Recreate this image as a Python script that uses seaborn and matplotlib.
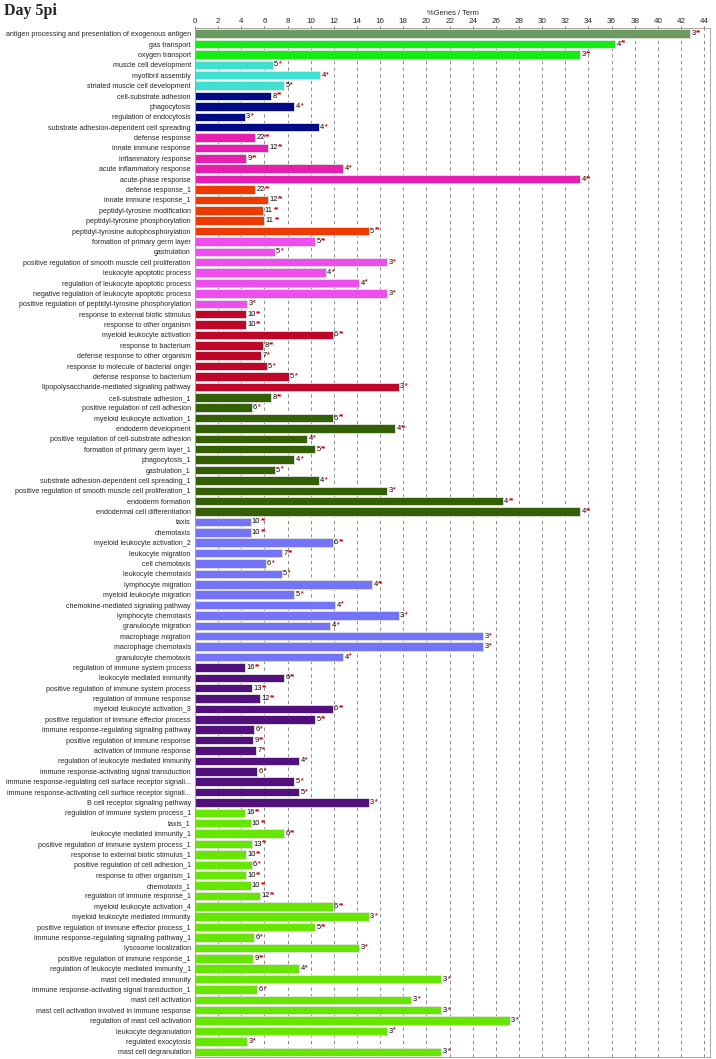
import pandas as pd
import matplotlib.pyplot as plt
import seaborn as sns

terms = [
    "antigen processing and presentation of exogenous antigen", "gas transport", "oxygen transport",
    "muscle cell development", "myofibril assembly", "striated muscle cell development",
    "cell-substrate adhesion", "phagocytosis", "regulation of endocytosis",
    "substrate adhesion-dependent cell spreading",
    "defense response", "innate immune response", "inflammatory response",
    "acute inflammatory response", "acute-phase response",
    "defense response_1", "innate immune response_1", "peptidyl-tyrosine modification",
    "peptidyl-tyrosine phosphorylation", "peptidyl-tyrosine autophosphorylation",
    "formation of primary germ layer", "gastrulation",
    "positive regulation of smooth muscle cell proliferation", "leukocyte apoptotic process",
    "regulation of leukocyte apoptotic process", "negative regulation of leukocyte apoptotic process",
    "positive regulation of peptidyl-tyrosine phosphorylation",
    "response to external biotic stimulus", "response to other organism",
    "myeloid leukocyte activation", "response to bacterium", "defense response to other organism",
    "response to molecule of bacterial origin", "defense response to bacterium",
    "lipopolysaccharide-mediated signaling pathway",
    "cell-substrate adhesion_1", "positive regulation of cell adhesion",
    "myeloid leukocyte activation_1", "endoderm development",
    "positive regulation of cell-substrate adhesion", "formation of primary germ layer_1",
    "phagocytosis_1", "gastrulation_1", "substrate adhesion-dependent cell spreading_1",
    "positive regulation of smooth muscle cell proliferation_1", "endoderm formation",
    "endodermal cell differentiation",
    "taxis", "chemotaxis", "myeloid leukocyte activation_2", "leukocyte migration",
    "cell chemotaxis", "leukocyte chemotaxis", "lymphocyte migration",
    "myeloid leukocyte migration", "chemokine-mediated signaling pathway",
    "lymphocyte chemotaxis", "granulocyte migration", "macrophage migration",
    "macrophage chemotaxis", "granulocyte chemotaxis",
    "regulation of immune system process", "leukocyte mediated immunity",
    "positive regulation of immune system process", "regulation of immune response",
    "myeloid leukocyte activation_3", "positive regulation of immune effector process",
    "immune response-regulating signaling pathway", "positive regulation of immune response",
    "activation of immune response", "regulation of leukocyte mediated immunity",
    "immune response-activating signal transduction",
    "immune response-regulating cell surface receptor signali...",
    "immune response-activating cell surface receptor signali...",
    "B cell receptor signaling pathway",
    "regulation of immune system process_1", "taxis_1", "leukocyte mediated immunity_1",
    "positive regulation of immune system process_1", "response to external biotic stimulus_1",
    "positive regulation of cell adhesion_1", "response to other organism_1", "chemotaxis_1",
    "regulation of immune response_1", "myeloid leukocyte activation_4",
    "myeloid leukocyte mediated immunity", "positive regulation of immune effector process_1",
    "immune response-regulating signaling pathway_1", "lysosome localization",
    "positive regulation of immune response_1", "regulation of leukocyte mediated immunity_1",
    "mast cell mediated immunity", "immune response-activating signal transduction_1",
    "mast cell activation", "mast cell activation involved in immune response",
    "regulation of mast cell activation", "leukocyte degranulation", "regulated exocytosis",
    "mast cell degranulation",
]

pct_genes = [
    42.8, 36.3, 33.3,
    6.7, 10.8, 7.7,
    6.6, 8.6, 4.3, 10.7,
    5.2, 6.3, 4.4, 12.8, 33.3,
    5.2, 6.3, 5.9, 6.0, 15.0,
    10.4, 6.9, 16.6, 11.3, 14.2, 16.6, 4.5,
    4.4, 4.4, 11.9, 5.9, 5.7, 6.2, 8.1, 17.6,
    6.6, 4.9, 11.9, 17.3, 9.7, 10.4, 8.6, 6.9, 10.7, 16.6, 26.6, 33.3,
    4.8, 4.8, 11.9, 7.5, 6.1, 7.5, 15.3, 8.6, 12.1, 17.6, 11.7, 24.9, 24.9, 12.8,
    4.3, 7.7, 4.9, 5.6, 11.9, 10.4, 5.1, 5.0, 5.3, 9.0, 5.4, 8.6, 9.0, 15.0,
    4.3, 4.8, 7.7, 4.9, 4.4, 4.9, 4.4, 4.8, 5.6, 11.9, 15.0, 10.4, 5.1, 14.2,
    5.0, 9.0, 21.3, 5.4, 18.7, 21.3, 27.2, 16.6, 4.5, 21.3,
]

gene_counts = [
    3, 4, 3,
    5, 4, 5,
    8, 4, 3, 4,
    22, 12, 9, 4, 4,
    22, 12, 11, 11, 5,
    5, 5, 3, 4, 4, 3, 3,
    10, 10, 6, 8, 7, 5, 5, 3,
    8, 6, 6, 4, 4, 5, 4, 5, 4, 3, 4, 4,
    10, 10, 6, 7, 6, 5, 4, 5, 4, 3, 4, 3, 3, 4,
    16, 6, 13, 12, 6, 5, 6, 9, 7, 4, 6, 5, 5, 3,
    16, 10, 6, 13, 10, 6, 10, 10, 12, 6, 3, 5, 6, 3,
    9, 4, 3, 6, 3, 3, 3, 3, 3, 3,
]

stars = [
    "**", "**", "**",
    "*", "*", "*",
    "**", "*", "*", "*",
    "**", "**", "**", "*", "**",
    "**", "**", "**", "**", "**",
    "**", "*", "*", "*", "*", "*", "*",
    "**", "**", "**", "**", "*", "*", "*", "*",
    "**", "*", "**", "**", "*", "**", "*", "*", "*", "*", "**", "**",
    "**", "**", "**", "**", "*", "*", "**", "*", "*", "*", "*", "*", "*", "*",
    "**", "**", "**", "**", "**", "**", "*", "**", "*", "*", "*", "*", "*", "*",
    "**", "**", "**", "**", "**", "*", "**", "**", "**", "**", "*", "**", "*", "*",
    "**", "*", "*", "*", "*", "*", "*", "*", "*", "*",
]

group_names = ["g1", "g2", "g3", "g4", "g5", "g6", "g7", "g8", "g9", "g10", "g11", "g12"]
group_sizes = [1, 2, 3, 4, 5, 5, 7, 8, 12, 14, 14, 24]
group_colors = ["#6b9b5e", "#14ec14", "#40e0d0", "#000a86", "#e81eb0", "#ec3a00",
                "#ee4eee", "#bf0628", "#335f05", "#7474fa", "#52107c", "#66e600"]

groups = []
for name, n in zip(group_names, group_sizes):
    groups += [name] * n

df = pd.DataFrame({"term": terms, "pct": pct_genes, "group": groups})

sns.set_style("white")
plt.rcParams['font.family'] = ['Liberation Sans', 'DejaVu Sans']

fig = plt.figure(figsize=(7.16, 10.59), dpi=100)
ax = fig.add_axes([0.2723, 0.0019, 0.7193, 0.9717])

sns.barplot(data=df, y="term", x="pct", hue="group", palette=dict(zip(group_names, group_colors)),
            dodge=False, orient="h", width=0.82, saturation=1, edgecolor="#e4e4e4",
            linewidth=0.6, legend=False, ax=ax)

# count + significance stars at the end of each bar
for i, (v, c, s) in enumerate(zip(pct_genes, gene_counts, stars)):
    ax.annotate(str(c), (v, i), xytext=(1.0, 0), textcoords="offset points",
                va="center", ha="left", fontsize=5.4, color="black")
    ax.annotate(s, (v, i), xytext=(1.4 + 3.0 * len(str(c)), 0.6), textcoords="offset points",
                va="center", ha="left", fontsize=4.8, color="#e00000", fontweight="bold")

ax.set_xlim(0, 44.5)
ax.set_ylim(len(terms) - 0.5, -0.55)
ax.set_xticks(range(0, 45, 2))
ax.xaxis.tick_top()
ax.xaxis.set_label_position("top")
ax.set_xlabel("%Genes / Term", fontsize=5.4, labelpad=2.5)
ax.set_ylabel("")
ax.tick_params(axis="x", labelsize=5.8, length=1.5, width=0.5, pad=0.6, color="#444444")
ax.tick_params(axis="y", labelsize=5.1, length=2, width=0.5, pad=1, color="#444444")

ax.set_axisbelow(True)
for x in range(2, 45, 2):
    ax.axvline(x, color="#7a7a7a", linewidth=0.6, linestyle=(0, (4, 4)), zorder=0)

for sp in ax.spines.values():
    sp.set_color("#999999")
    sp.set_linewidth(0.6)

fig.text(0.006, 0.997, "Day 5pi", family=["Liberation Serif", "DejaVu Serif"],
         fontweight="bold", fontsize=11.5, va="top", ha="left")

fig.savefig("out.png", dpi=100)
